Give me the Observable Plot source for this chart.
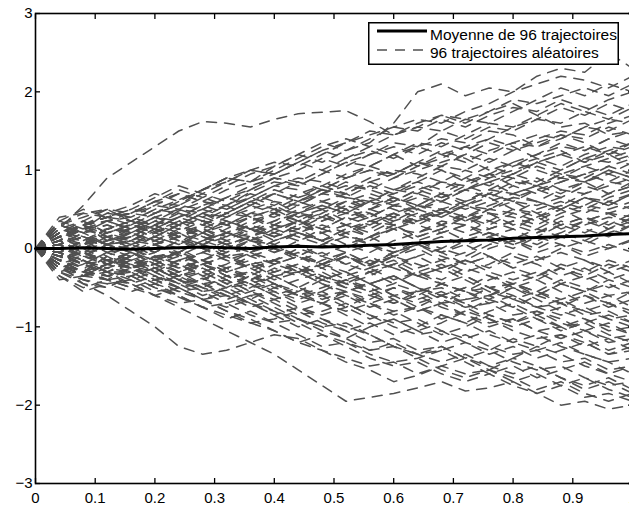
<!DOCTYPE html>
<html><head><meta charset="utf-8">
<script src="https://cdn.jsdelivr.net/npm/d3@7"></script>
<script src="https://cdn.jsdelivr.net/npm/@observablehq/plot@0.6"></script>
<style>
html,body{margin:0;padding:0;background:#fff;overflow:hidden;}
#wrap{position:relative;width:629px;height:506px;overflow:hidden;}
</style></head><body><div id="wrap"></div>
<script>
// time grid
const times = [0,.04,.08,.12,.16,.2,.24,.28,.32,.36,.4,.44,.48,.52,.56,.6,.64,.68,.72,.76,.8,.84,.88,.92,.96,1];
// mean of the 96 trajectories
const meanValues = [0,0,.01,0,-.01,0,.01,.02,.01,0,.02,.03,.02,.03,.04,.05,.07,.09,.1,.11,.13,.14,.15,.16,.18,.19];
// 96 random trajectories
const trajectories = [
[0,.25,.55,.9,1.1,1.3,1.5,1.62,1.6,1.55,1.65,1.72,1.74,1.76,1.62,1.45,1.55,1.7,1.6,1.75,1.85,1.7,1.55,1.6,1.45,1.5],
[0,.15,.3,.4,.45,.6,.55,.75,.9,.85,1.05,1.2,1.1,1.25,1.35,1.6,2.0,2.1,1.95,2.05,2.0,2.2,2.3,2.25,2.5,2.3],
[0,-.2,-.35,-.3,-.45,-.6,-.75,-.9,-1.05,-1.2,-1.35,-1.55,-1.75,-1.95,-1.9,-1.85,-1.78,-1.7,-1.82,-1.78,-1.7,-1.85,-2.0,-1.95,-2.05,-2.0],
[0,-.2,-.45,-.6,-.8,-1.0,-1.25,-1.35,-1.3,-1.2,-1.1,-1.15,-1.3,-1.45,-1.55,-1.7,-1.62,-1.5,-1.6,-1.55,-1.4,-1.5,-1.65,-1.8,-1.7,-1.85],
[0,.05,.2,.25,.35,.3,.48,.6,.55,.72,.85,.8,.95,1.1,1.05,1.2,1.35,1.3,1.45,1.6,1.55,1.7,1.85,1.75,1.9,2.0],
[0,-.15,-.05,-.15,-.2,-.15,-.3,-.2,-.35,-.5,-.45,-.6,-.55,-.4,-.5,-.65,-.8,-.7,-.85,-.95,-.9,-1.05,-1.0,-1.15,-1.3,-1.2],
[0,.3,.2,.35,.25,.4,.35,.2,.3,.45,.55,.4,.5,.65,.6,.75,.7,.85,1.0,.9,1.05,1.15,1.05,1.2,1.3,1.25],
[0,-.25,-.35,-.2,-.15,-.05,.1,.05,-.1,-.05,.1,.2,.1,.25,.35,.3,.15,.25,.4,.5,.45,.6,.5,.65,.55,.7],
[0,.1,-.05,-.2,-.12,-.3,-.45,-.38,-.5,-.4,-.25,-.35,-.2,-.1,-.22,-.05,.05,-.05,.1,.2,.12,.25,.15,.3,.4,.35],
[0,.3,.45,.4,.5,.65,.8,.7,.85,1.0,.95,1.1,1.25,1.15,1.3,1.2,1.05,1.15,1.3,1.4,1.3,1.15,1.25,1.1,1.2,1.05],
[0,-.3,-.4,-.5,-.35,-.5,-.62,-.75,-.7,-.85,-.95,-.9,-1.05,-1.15,-1.0,-.9,-1.05,-1.2,-1.1,-1.25,-1.35,-1.3,-1.45,-1.4,-1.55,-1.5],
[0,-.05,.1,.15,.05,-.1,-.05,.1,.2,.15,.3,.25,.4,.3,.2,.35,.45,.4,.55,.5,.65,.6,.75,.7,.85,.8],
[0,-.1,.05,.25,.2,.1,.22,.35,.3,.45,.4,.55,.7,.65,.5,.6,.75,.85,.8,.95,1.1,1.0,.9,1.05,.95,1.1],
[0,.15,0,-.15,-.25,-.2,-.35,-.3,-.45,-.6,-.55,-.7,-.6,-.75,-.9,-.8,-.95,-1.1,-1.0,-.85,-.95,-.8,-.9,-1.05,-.95,-1.1],
[0,.2,.3,.2,.3,.25,.1,.2,.05,.15,0,-.1,.05,.15,.1,.25,.2,.35,.3,.45,.4,.3,.45,.55,.5,.6],
[0,-.3,-.2,-.05,0,.15,.3,.45,.4,.55,.7,.6,.75,.9,1.0,.9,1.05,1.2,1.3,1.2,1.35,1.45,1.4,1.55,1.65,1.6],
[0,.2,.15,.05,0,-.12,-.05,-.2,-.35,-.3,-.15,-.25,-.4,-.5,-.45,-.6,-.55,-.7,-.65,-.5,-.6,-.75,-.7,-.85,-.8,-.95],
[0,-.15,-.3,-.2,-.25,-.4,-.3,-.15,-.25,-.1,0,-.1,.05,-.05,-.2,-.1,-.25,-.15,-.3,-.2,-.05,-.15,0,.1,0,.12],
[0,.35,.25,.45,.4,.55,.5,.65,.55,.4,.5,.35,.45,.3,.4,.55,.5,.65,.75,.65,.8,.7,.85,.95,.85,1.0],
[0,-.35,-.55,-.45,-.4,-.55,-.5,-.65,-.55,-.7,-.85,-1.0,-.9,-1.05,-1.2,-1.15,-1.3,-1.25,-1.4,-1.3,-1.15,-1.25,-1.1,-1.2,-1.35,-1.3],
[0,.05,-.1,.05,.15,.05,-.1,-.2,-.1,.05,-.05,.1,.2,.3,.25,.4,.55,.5,.6,.75,.7,.8,.9,.85,1.0,.9],
[0,-.1,-.2,-.35,-.3,-.45,-.55,-.5,-.35,-.45,-.6,-.75,-.85,-.75,-.6,-.7,-.55,-.45,-.55,-.4,-.3,-.4,-.25,-.35,-.2,-.3],
[0,.2,.35,.5,.35,.5,.62,.75,.9,.85,1.0,1.15,1.3,1.4,1.3,1.45,1.55,1.5,1.4,1.55,1.5,1.65,1.8,1.7,1.85,1.75],
[0,-.2,-.1,-.15,-.05,-.2,-.1,.05,-.05,.1,0,-.15,-.05,-.2,-.3,-.2,-.35,-.45,-.35,-.5,-.45,-.55,-.4,-.5,-.6,-.55],
[0,.1,.25,.3,.2,.35,.25,.4,.3,.2,.3,.45,.35,.5,.6,.5,.4,.5,.35,.45,.3,.4,.25,.35,.45,.4],
[0,-.25,-.4,-.45,-.55,-.45,-.6,-.75,-.9,-.8,-.95,-1.1,-1.25,-1.2,-1.35,-1.45,-1.4,-1.3,-1.45,-1.6,-1.5,-1.65,-1.55,-1.45,-1.6,-1.7],
[0,.15,.1,.05,-.05,.05,.2,.1,.25,.4,.5,.45,.6,.5,.35,.45,.3,.2,.3,.15,.25,.1,.2,.35,.25,.4],
[0,-.05,-.2,-.3,-.2,-.1,-.25,-.15,0,.1,.05,-.1,-.2,-.1,-.25,-.4,-.3,-.45,-.55,-.5,-.65,-.55,-.7,-.8,-.7,-.85],
[0,.2,.3,.45,.55,.7,.6,.75,.85,1.0,1.1,1.05,1.2,1.35,1.5,1.45,1.6,1.7,1.65,1.75,1.9,1.85,1.95,2.05,1.95,2.1],
[0,-.15,0,.15,.1,.25,.15,0,-.1,-.2,-.15,-.3,-.25,-.1,-.2,-.05,.05,-.05,-.2,-.1,-.25,-.35,-.25,-.4,-.3,-.45],
[0,.25,.15,.05,.1,.22,.35,.3,.45,.6,.5,.65,.75,.7,.85,.75,.9,1.05,1.0,1.15,1.05,1.2,1.35,1.25,1.4,1.3],
[0,-.3,-.45,-.5,-.35,-.25,-.4,-.5,-.65,-.55,-.45,-.55,-.4,-.3,-.45,-.35,-.5,-.65,-.75,-.7,-.85,-.8,-.95,-1.05,-1.15,-1.1],
[0,.05,.15,.05,.2,.1,.25,.15,.05,.15,.3,.2,.35,.45,.4,.55,.65,.6,.5,.6,.7,.6,.5,.65,.55,.7],
[0,-.15,-.05,0,.1,.05,-.08,-.2,-.3,-.2,-.35,-.3,-.45,-.6,-.7,-.6,-.75,-.85,-.95,-1.1,-1.2,-1.1,-1.25,-1.35,-1.45,-1.4],
[0,.35,.5,.4,.35,.5,.45,.35,.5,.65,.8,.9,.85,.75,.9,1.0,.95,.85,.75,.85,.7,.8,.95,1.05,1.15,1.25],
[0,-.2,-.35,-.25,-.3,-.2,-.05,-.15,-.3,-.4,-.55,-.65,-.55,-.7,-.85,-.95,-.9,-1.05,-1.15,-1.05,-1.2,-1.3,-1.2,-1.35,-1.45,-1.6],
[0,.1,-.05,-.15,-.05,.1,.2,.3,.2,.35,.45,.6,.7,.8,.75,.9,1.0,1.1,1.2,1.35,1.25,1.4,1.5,1.45,1.6,1.7],
[0,-.25,-.15,-.3,-.3,-.45,-.35,-.5,-.6,-.5,-.35,-.25,-.4,-.3,-.15,-.25,-.1,0,-.1,.05,.15,.05,.2,.1,.25,.15],
[0,.1,.3,.35,.25,.4,.3,.15,.05,.15,.05,-.1,-.2,-.1,-.25,-.15,-.3,-.2,-.35,-.5,-.45,-.6,-.7,-.6,-.75,-.65],
[0,-.1,.05,.1,.15,.3,.4,.55,.65,.8,.9,.85,1.0,1.15,1.25,1.15,1.3,1.2,1.1,1.25,1.35,1.3,1.45,1.35,1.2,1.3],
[0,.1,-.05,-.15,-.25,-.35,-.5,-.45,-.6,-.7,-.85,-.75,-.9,-1.0,-1.1,-1.25,-1.35,-1.25,-1.4,-1.5,-1.6,-1.5,-1.65,-1.75,-1.65,-1.8],
[0,-.2,-.3,-.1,.05,.15,.05,.2,.35,.25,.1,.2,.1,0,.15,.25,.35,.45,.35,.5,.6,.55,.65,.55,.7,.8],
[0,.15,.3,.4,.45,.4,.3,.45,.35,.25,.15,.25,.1,.2,.05,-.05,.05,-.1,-.2,-.1,-.25,-.15,-.05,-.15,-.25,-.15],
[0,-.35,-.5,-.4,-.35,-.25,-.4,-.55,-.7,-.6,-.75,-.9,-1.0,-.95,-1.1,-1.25,-1.35,-1.3,-1.2,-1.3,-1.45,-1.55,-1.5,-1.65,-1.75,-1.7],
[0,.25,.35,.2,.3,.45,.55,.7,.6,.75,.9,1.0,1.15,1.05,1.2,1.35,1.3,1.5,1.65,1.6,1.75,1.9,2.05,1.95,2.1,2.0],
[0,-.05,-.15,-.25,-.15,-.3,-.45,-.4,-.25,-.15,-.3,-.2,-.35,-.45,-.35,-.2,-.1,-.25,-.15,0,.1,0,.15,.05,.2,.3],
[0,.15,.25,.15,.2,.05,.15,.3,.45,.4,.3,.45,.55,.45,.6,.7,.8,.7,.55,.65,.5,.4,.5,.35,.45,.3],
[0,-.15,-.25,-.4,-.5,-.4,-.55,-.65,-.6,-.75,-.65,-.8,-.7,-.55,-.65,-.5,-.6,-.45,-.55,-.7,-.6,-.75,-.85,-.75,-.9,-1.0],
[0,0,-.1,.05,.15,.3,.45,.35,.2,.3,.45,.6,.75,.65,.8,.7,.85,1.0,.9,.8,.95,.85,1.0,1.15,1.1,1.2],
[0,-.2,-.35,-.2,-.05,-.15,-.05,.1,.2,.1,.25,.35,.25,.4,.3,.45,.55,.45,.6,.7,.85,.8,.95,.9,1.05,1.15],
[0,.15,.3,.4,.5,.45,.6,.75,.9,1.0,.95,1.1,1.0,.9,1.05,.95,1.1,1.0,.85,.95,.8,.9,.75,.85,.7,.8],
[0,-.1,-.05,-.2,-.3,-.25,-.4,-.55,-.5,-.35,-.45,-.6,-.7,-.85,-1.0,-.9,-1.05,-.95,-.8,-.9,-1.05,-1.15,-1.1,-1.25,-1.15,-1.3],
[0,.3,.2,.05,.1,-.05,-.15,-.05,.05,-.1,-.2,-.3,-.2,-.35,-.25,-.1,-.2,-.3,-.15,-.25,-.1,-.2,-.35,-.25,-.4,-.3],
[0,-.05,.1,.2,.3,.2,.35,.5,.4,.55,.45,.3,.45,.6,.5,.65,.55,.7,.85,.95,.9,1.05,.95,.85,1.0,.9],
[0,.2,.3,.15,.05,-.05,.1,0,-.15,-.05,-.2,-.1,-.25,-.4,-.3,-.45,-.55,-.5,-.65,-.6,-.75,-.9,-1.0,-.95,-1.1,-1.2],
[0,-.25,-.15,-.3,-.35,-.5,-.6,-.75,-.85,-.95,-.9,-.8,-.95,-1.05,-.95,-1.1,-1.0,-.85,-.95,-.8,-.7,-.85,-.75,-.6,-.7,-.55],
[0,.05,.2,.3,.2,.3,.15,.25,.4,.5,.6,.55,.7,.85,.75,.65,.55,.7,.6,.75,.9,.8,.7,.85,.95,.85],
[0,-.15,-.3,-.2,-.05,-.2,-.3,-.2,-.1,-.25,-.4,-.3,-.15,-.05,-.2,-.1,.05,.15,.05,-.1,-.2,-.1,-.25,-.15,-.3,-.2],
[0,.1,.25,.35,.45,.6,.7,.6,.5,.65,.55,.7,.8,.95,1.05,1.2,1.3,1.4,1.35,1.5,1.45,1.3,1.4,1.55,1.5,1.65],
[0,-.15,-.3,-.35,-.25,-.4,-.5,-.65,-.8,-.9,-1.05,-1.2,-1.1,-1.25,-1.4,-1.5,-1.45,-1.6,-1.7,-1.6,-1.75,-1.85,-1.75,-1.9,-1.85,-1.95],
[0,.05,-.1,-.2,-.1,-.25,-.15,-.3,-.2,-.05,.1,.2,.1,.25,.15,.3,.4,.3,.45,.35,.5,.45,.3,.4,.25,.35],
[0,.2,.1,.25,.35,.25,.4,.3,.45,.6,.7,.6,.5,.35,.45,.3,.15,.25,.1,.2,.05,.15,.3,.2,.35,.25],
[0,-.05,-.2,-.15,-.25,-.4,-.35,-.2,-.35,-.45,-.35,-.5,-.65,-.55,-.7,-.8,-.75,-.9,-.8,-.65,-.75,-.6,-.45,-.55,-.4,-.5],
[0,.1,.25,.15,.25,.15,.3,.45,.55,.65,.8,.75,.6,.7,.85,.95,1.1,1.05,1.2,1.1,1.25,1.35,1.45,1.4,1.55,1.45],
[0,-.1,.05,.15,0,-.15,-.25,-.15,-.3,-.2,-.35,-.5,-.6,-.55,-.45,-.6,-.7,-.6,-.75,-.9,-1.0,-.9,-1.05,-.95,-.85,-.95],
[0,.2,.3,.1,.15,.3,.2,.05,.15,.25,.15,.3,.4,.55,.45,.35,.5,.4,.55,.7,.6,.45,.55,.7,.8,.9],
[0,-.2,-.35,-.4,-.5,-.6,-.5,-.65,-.75,-.65,-.5,-.6,-.5,-.4,-.55,-.45,-.3,-.4,-.25,-.35,-.5,-.4,-.55,-.7,-.6,-.75],
[0,.05,-.1,-.2,-.1,.05,.15,.05,.2,.3,.2,.1,.25,.15,.05,-.1,0,-.15,-.05,.1,0,.15,.05,-.05,.05,-.05],
[0,.3,.4,.5,.45,.6,.75,.65,.8,.95,1.05,1.2,1.35,1.25,1.4,1.55,1.5,1.65,1.55,1.7,1.8,1.75,1.9,1.8,1.7,1.85],
[0,-.1,-.25,-.15,-.25,-.15,-.3,-.45,-.55,-.7,-.8,-.95,-1.1,-1.2,-1.3,-1.25,-1.4,-1.55,-1.65,-1.55,-1.7,-1.6,-1.75,-1.65,-1.8,-1.9],
[0,.15,.05,.2,.25,.15,.05,.2,.1,-.05,.05,.2,.3,.2,.35,.25,.1,.2,.3,.2,.1,-.05,.05,-.1,0,.1],
[0,-.05,.1,-.05,-.2,-.1,-.2,-.05,.1,.25,.35,.45,.4,.55,.65,.55,.7,.6,.75,.9,1.0,1.1,1.0,1.15,1.25,1.35],
[0,.1,.05,-.05,-.15,-.25,-.4,-.3,-.45,-.35,-.5,-.4,-.3,-.45,-.55,-.7,-.6,-.75,-.85,-1.0,-.9,-1.05,-1.15,-1.05,-1.2,-1.15],
[0,-.15,-.3,-.35,-.45,-.35,-.5,-.4,-.25,-.35,-.2,-.1,-.2,-.05,.05,-.05,.1,0,.15,.25,.35,.25,.4,.5,.45,.55],
[0,.2,.35,.2,.1,.25,.4,.5,.65,.55,.7,.85,.75,.9,1.0,.95,1.1,1.25,1.15,1.0,1.1,1.2,1.3,1.25,1.4,1.5],
[0,-.1,-.05,-.2,-.1,-.25,-.35,-.45,-.4,-.55,-.7,-.85,-.8,-.7,-.85,-1.0,-1.1,-1.05,-1.2,-1.35,-1.25,-1.4,-1.3,-1.2,-1.35,-1.25],
[0,.15,.25,.35,.4,.3,.15,.25,.15,.3,.45,.35,.2,.3,.15,.25,.4,.5,.4,.55,.65,.75,.65,.8,.7,.85],
[0,-.4,-.35,-.2,-.1,.05,-.05,.1,.2,.1,-.05,.05,-.1,-.2,-.1,-.25,-.35,-.25,-.15,-.3,-.4,-.3,-.45,-.55,-.45,-.6],
[0,.05,.15,0,-.1,.05,.15,.25,.1,.2,.35,.5,.6,.5,.4,.55,.45,.3,.4,.25,.35,.5,.6,.5,.65,.75],
[0,-.1,-.2,-.3,-.4,-.3,-.15,-.25,-.4,-.55,-.65,-.55,-.7,-.8,-.7,-.85,-.75,-.6,-.5,-.6,-.45,-.55,-.65,-.55,-.7,-.8],
[0,.4,.45,.5,.35,.25,.4,.55,.45,.6,.75,.65,.8,.7,.55,.65,.5,.6,.75,.85,.95,1.1,1.2,1.3,1.2,1.35],
[0,-.05,.1,.25,.3,.2,.3,.15,.05,-.05,-.15,-.05,-.2,-.3,-.45,-.35,-.5,-.6,-.5,-.35,-.45,-.35,-.2,-.3,-.15,-.25],
[0,.1,.3,.4,.3,.45,.55,.5,.65,.75,.9,.8,.95,1.1,1.2,1.3,1.2,1.35,1.25,1.4,1.55,1.65,1.6,1.75,1.65,1.8],
[0,-.2,-.3,-.1,-.2,-.35,-.45,-.6,-.5,-.65,-.8,-.9,-1.0,-1.15,-1.3,-1.2,-1.35,-1.45,-1.35,-1.5,-1.4,-1.25,-1.35,-1.5,-1.6,-1.5],
[0,.05,.15,.05,-.05,-.15,-.05,.1,0,.15,.25,.15,.05,.2,.3,.45,.35,.5,.4,.3,.45,.35,.5,.65,.6,.5],
[0,-.2,-.3,-.4,-.25,-.1,-.2,-.35,-.5,-.45,-.6,-.5,-.35,-.45,-.3,-.2,-.35,-.25,-.4,-.55,-.65,-.75,-.65,-.8,-.9,-.85],
[0,.2,.3,.1,.2,.35,.5,.4,.55,.7,.6,.45,.55,.45,.6,.75,.85,.75,.9,1.05,.95,1.1,1.2,1.1,1.25,1.15],
[0,-.1,-.2,-.05,.05,.2,.1,-.05,-.15,-.25,-.15,-.3,-.45,-.55,-.45,-.35,-.5,-.6,-.7,-.6,-.5,-.6,-.45,-.35,-.5,-.4],
[0,.15,.3,.35,.25,.4,.5,.45,.3,.4,.25,.35,.5,.6,.7,.6,.75,.65,.8,.7,.6,.75,.85,.95,1.05,.95],
[0,-.25,-.3,-.4,-.45,-.6,-.7,-.65,-.8,-.95,-1.05,-1.2,-1.3,-1.4,-1.5,-1.45,-1.6,-1.5,-1.4,-1.55,-1.65,-1.8,-1.7,-1.85,-1.95,-1.85],
[0,.05,-.05,.1,.25,.15,.3,.2,.35,.25,.15,.3,.2,.05,.15,0,.1,-.05,.05,.15,.05,.2,.3,.4,.3,.45],
[0,-.05,.05,-.1,-.25,-.15,-.05,-.2,-.1,-.25,-.15,0,-.1,.05,-.05,.1,.2,.3,.2,.35,.25,.4,.55,.45,.6,.7],
[0,.15,.3,.4,.45,.55,.7,.6,.75,.85,.95,1.1,1.25,1.35,1.45,1.55,1.65,1.6,1.75,1.85,2.0,2.1,2.2,2.15,2.05,2.2],
[0,-.05,-.15,-.3,-.15,-.3,-.2,-.35,-.25,-.4,-.3,-.2,-.35,-.5,-.6,-.5,-.65,-.55,-.7,-.85,-.95,-.85,-1.0,-.9,-1.05,-1.0],
[0,.1,-.05,.1,.2,.1,0,-.15,-.05,.1,.2,.35,.25,.4,.5,.4,.3,.45,.55,.45,.3,.2,.35,.25,.15,.3],
[0,-.15,-.1,.05,-.05,-.2,-.35,-.25,-.4,-.3,-.45,-.6,-.7,-.6,-.75,-.65,-.8,-.7,-.55,-.65,-.5,-.65,-.8,-.9,-1.0,-1.1]
];
// axis ticks and labels
const xTicks = [0,.1,.2,.3,.4,.5,.6,.7,.8,.9,1];
const xTickLabels = ["0","0.1","0.2","0.3","0.4","0.5","0.6","0.7","0.8","0.9","1"];
const yTicks = [-3,-2,-1,0,1,2,3];
const yTickLabels = ["\u22123","\u22122","\u22121","0","1","2","3"];
// legend texts
const legendLabels = ["Moyenne de 96 trajectoires","96 trajectoires aléatoires"];

const pathRows = trajectories.flatMap((t, k) => t.map((v, i) => ({run: k, t: times[i], v})));
const meanRows = meanValues.map((v, i) => ({t: times[i], v}));
const xLab = new Map(xTicks.map((d, i) => [d, xTickLabels[i]]));
const yLab = new Map(yTicks.map((d, i) => [d, yTickLabels[i]]));

const FONT = "'Liberation Sans', Arial, Helvetica, sans-serif";
const DASH = "10,8";
const GRAY = "#505050";

const chart = Plot.plot({
  width: 632, height: 506,
  marginLeft: 35, marginRight: 0, marginTop: 13, marginBottom: 23,
  style: {fontFamily: FONT, fontSize: "15px", color: "#000", background: "#fff", overflow: "visible", maxWidth: "none"},
  x: {domain: [0, 1], label: null},
  y: {domain: [-3, 3], label: null},
  marks: [
    Plot.line(pathRows, {x: "t", y: "v", z: "run", stroke: GRAY, strokeWidth: 1.5, strokeDasharray: DASH}),
    Plot.line(meanRows, {x: "t", y: "v", stroke: "#000", strokeWidth: 3}),
    Plot.frame({stroke: "#000", strokeWidth: 1.6}),
    Plot.axisX(xTicks, {anchor: "bottom", tickSize: 0, tickPadding: 9, tickFormat: d => xLab.get(d), label: null, fontSize: 15}),
    Plot.axisX(xTicks, {anchor: "bottom", tickSize: -5, tickFormat: () => "", label: null, strokeWidth: 1.3}),
    Plot.axisX(xTicks, {anchor: "top", tickSize: -5, tickFormat: () => "", label: null, strokeWidth: 1.3}),
    Plot.axisY(yTicks, {anchor: "left", tickSize: 0, tickPadding: 3, tickFormat: d => yLab.get(d), label: null, fontSize: 15}),
    Plot.axisY(yTicks, {anchor: "left", tickSize: -5, tickFormat: () => "", label: null, strokeWidth: 1.3}),
    Plot.axisY(yTicks, {anchor: "right", tickSize: -5, tickFormat: () => "", label: null, strokeWidth: 1.3})
  ]
});
const wrap = document.getElementById("wrap");
wrap.appendChild(chart);

// legend (inside the plot area, top right)
const lw = 251, lh = 43;
const leg = d3.create("svg").attr("width", lw).attr("height", lh)
  .style("position", "absolute").style("left", "368px").style("top", "22px");
leg.append("rect").attr("x", 0.75).attr("y", 0.75).attr("width", lw - 1.5).attr("height", lh - 1.5)
  .attr("fill", "#fff").attr("stroke", "#000").attr("stroke-width", 1.5);
leg.append("line").attr("x1", 9).attr("x2", 59).attr("y1", 9).attr("y2", 9)
  .attr("stroke", "#000").attr("stroke-width", 3);
leg.append("line").attr("x1", 9).attr("x2", 59).attr("y1", 28).attr("y2", 28)
  .attr("stroke", GRAY).attr("stroke-width", 1.5).attr("stroke-dasharray", DASH);
legendLabels.forEach((s, i) => {
  leg.append("text").attr("x", 62).attr("y", i === 0 ? 18 : 36)
    .attr("font-family", FONT).attr("font-size", 15.5).attr("fill", "#000").text(s);
});
wrap.appendChild(leg.node());
</script>
</body></html>
